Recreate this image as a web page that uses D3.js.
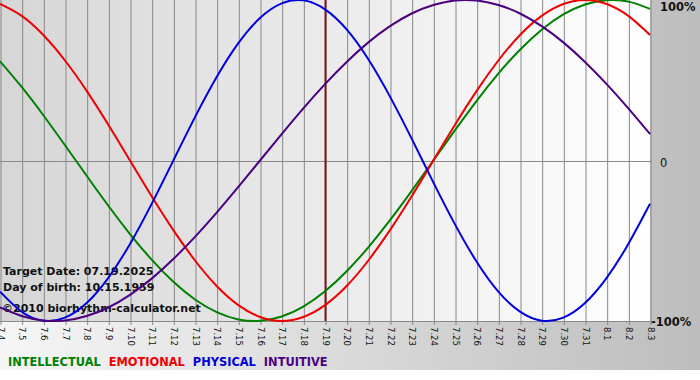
<!DOCTYPE html>
<html>
<head>
<meta charset="utf-8">
<script src="https://cdn.jsdelivr.net/npm/d3@7"></script>
<style>
  html, body { margin: 0; padding: 0; background: #fff; }
  svg { display: block; }
  .tick-label { font-family: 'DejaVu Sans', Verdana, sans-serif; font-size: 8.5px; fill: #111; }
  .info { font-family: 'DejaVu Sans', Verdana, sans-serif; font-weight: bold; fill: #111; }
  .legend { font-family: 'DejaVu Sans', Verdana, sans-serif; font-weight: bold; font-size: 11.4px; }
</style>
</head>
<body>
<svg></svg>
<script>
// days shown on the x axis
const days = [
  '7.4', '7.5', '7.6', '7.7', '7.8', '7.9', '7.10', '7.11', '7.12', '7.13',
  '7.14', '7.15', '7.16', '7.17', '7.18', '7.19', '7.20', '7.21', '7.22', '7.23',
  '7.24', '7.25', '7.26', '7.27', '7.28', '7.29', '7.30', '7.31', '8.1', '8.2', '8.3'
];

// cycle values per day (-1 .. 1)
const intellectual = [
  0.618, 0.458, 0.282, 0.095, -0.095, -0.282, -0.458, -0.618, -0.756, -0.866,
  -0.945, -0.99, -0.999, -0.972, -0.91, -0.815, -0.69, -0.541, -0.372, -0.189,
  0, 0.189, 0.372, 0.541, 0.69, 0.815, 0.91, 0.972, 0.999, 0.99, 0.945
];
const emotional = [
  0.975, 0.901, 0.782, 0.623, 0.434, 0.223, 0, -0.223, -0.434, -0.623,
  -0.782, -0.901, -0.975, -1, -0.975, -0.901, -0.782, -0.623, -0.434, -0.223,
  0, 0.223, 0.434, 0.623, 0.782, 0.901, 0.975, 1, 0.975, 0.901, 0.782
];
const physical = [
  -0.817, -0.942, -0.998, -0.979, -0.888, -0.731, -0.52, -0.27, 0, 0.27,
  0.52, 0.731, 0.888, 0.979, 0.998, 0.942, 0.817, 0.631, 0.398, 0.136,
  -0.136, -0.398, -0.631, -0.817, -0.942, -0.998, -0.979, -0.888, -0.731, -0.52, -0.27
];
const intuitive = [
  -0.916, -0.969, -0.997, -0.997, -0.969, -0.916, -0.837, -0.736, -0.614, -0.476,
  -0.325, -0.165, 0, 0.165, 0.325, 0.476, 0.614, 0.736, 0.837, 0.916,
  0.969, 0.997, 0.997, 0.969, 0.916, 0.837, 0.736, 0.614, 0.476, 0.325, 0.165
];

const seriesNames = ['INTELLECTUAL', 'EMOTIONAL', 'PHYSICAL', 'INTUITIVE'];
const yTicks = [1, 0, -1];
const yTickLabels = ['100%', '0', '-100%'];
const targetDay = '7.19';
const infoLines = ['Target Date: 07.19.2025', 'Day of birth: 10.15.1959', '©2010 biorhythm-calculator.net'];

const colors = ['#008000', '#ee0000', '#0000dd', '#4b0082'];
const allSeries = [intellectual, emotional, physical, intuitive];

const W = 700, H = 380;
const plot = { left: 0, top: 0, right: 650, bottom: 321 };

const svg = d3.select('svg').attr('width', W).attr('height', H);

// gradients for frame and plot background
const defs = svg.append('defs');
const outerGrad = defs.append('linearGradient').attr('id', 'outer-grad');
outerGrad.append('stop').attr('offset', '0%').attr('stop-color', '#f6f6f6');
outerGrad.append('stop').attr('offset', '100%').attr('stop-color', '#bdbdbd');
const plotGrad = defs.append('linearGradient').attr('id', 'plot-grad');
plotGrad.append('stop').attr('offset', '0%').attr('stop-color', '#d6d6d6');
plotGrad.append('stop').attr('offset', '100%').attr('stop-color', '#ffffff');

svg.append('rect').attr('width', W).attr('height', 370).style('fill', 'url(#outer-grad)');

const x = d3.scalePoint().domain(days).range([plot.left, plot.right]);
const y = d3.scaleLinear().domain([-1, 1]).range([plot.bottom, plot.top]);

svg.append('rect')
  .attr('x', plot.left).attr('y', plot.top)
  .attr('width', plot.right - plot.left).attr('height', plot.bottom - plot.top)
  .style('fill', 'url(#plot-grad)');

// vertical day lines with ticks below the plot
const xAxis = svg.append('g')
  .attr('transform', `translate(0,${plot.top})`)
  .call(d3.axisBottom(x).tickSize(plot.bottom - plot.top + 4).tickSizeOuter(0).tickPadding(0).tickFormat(''));
xAxis.select('.domain').remove();
xAxis.selectAll('line').attr('stroke', '#888').attr('transform', 'translate(0.5,0)');

// rotated day labels
svg.append('g').selectAll('text')
  .data(days)
  .join('text')
  .attr('class', 'tick-label')
  .attr('transform', (d) => `translate(${x(d) + 0.5},${plot.bottom + 6}) rotate(90)`)
  .attr('dy', '0.35em')
  .text((d) => d);

// right side percent labels
const yAxis = svg.append('g')
  .attr('transform', `translate(${plot.right + 3},0)`)
  .call(d3.axisRight(y).tickValues(yTicks).tickSize(0).tickPadding(7)
    .tickFormat((d, i) => yTickLabels[i]));
yAxis.select('.domain').remove();
yAxis.selectAll('text')
  .style('font-family', "'DejaVu Sans', Verdana, sans-serif")
  .style('font-weight', 'bold')
  .style('font-size', '11.5px')
  .attr('fill', '#111');
yAxis.selectAll('text').filter((d) => d === 1).attr('dy', '0.9em');
yAxis.selectAll('text').filter((d) => d === 0).attr('dy', '0.55em').style('font-weight', 'normal');
yAxis.selectAll('text').filter((d) => d === -1).attr('x', -2).attr('dy', '0.35em');

// horizontal 0 line and bottom line
svg.append('g').selectAll('line')
  .data([0, -1])
  .join('line')
  .attr('x1', plot.left).attr('x2', plot.right + 2)
  .attr('y1', (d) => Math.round(y(d)) + 0.5).attr('y2', (d) => Math.round(y(d)) + 0.5)
  .attr('stroke', '#888');

// target day line
svg.append('line')
  .attr('x1', x(targetDay) + 0.5).attr('x2', x(targetDay) + 0.5)
  .attr('y1', plot.top).attr('y2', plot.bottom)
  .attr('stroke', '#7a1616').attr('stroke-width', 2);

// info text
const info = svg.append('g').attr('class', 'info');
info.append('text').attr('x', 3).attr('y', 275).style('font-size', '11px').text(infoLines[0]);
info.append('text').attr('x', 3).attr('y', 291).style('font-size', '11px').text(infoLines[1]);
info.append('text').attr('x', 2).attr('y', 312).style('font-size', '11px').text(infoLines[2]);

// cycle curves
const line = d3.line()
  .x((d, i) => x(days[i]))
  .y((d) => y(d))
  .curve(d3.curveNatural);

svg.append('g').selectAll('path')
  .data(allSeries)
  .join('path')
  .attr('d', line)
  .attr('fill', 'none')
  .attr('stroke', (d, i) => colors[i])
  .attr('stroke-width', 2);

// legend
let lx = 8;
seriesNames.forEach((name, i) => {
  const t = svg.append('text')
    .attr('class', 'legend')
    .attr('x', lx).attr('y', 366)
    .attr('fill', colors[i])
    .text(name);
  lx += t.node().getComputedTextLength() + 8;
});
</script>
</body>
</html>
